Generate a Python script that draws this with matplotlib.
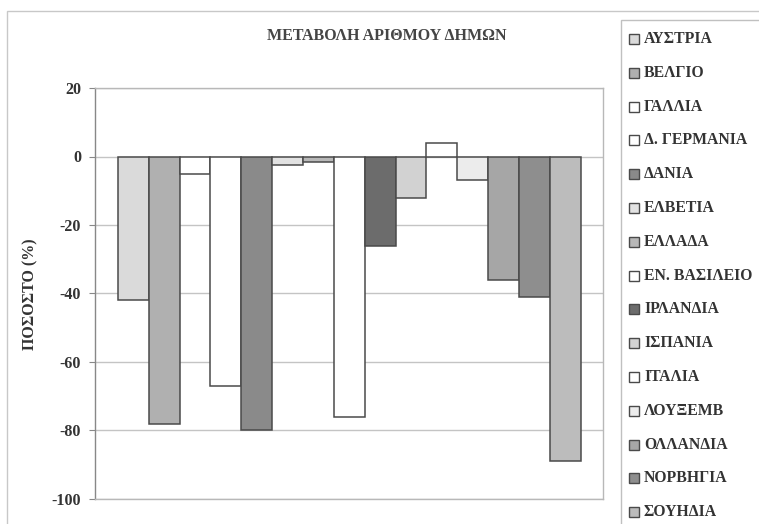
import matplotlib
matplotlib.use('Agg')
import matplotlib.pyplot as plt
from matplotlib.patches import Rectangle

# data
countries = ['ΑΥΣΤΡΙΑ', 'ΒΕΛΓΙΟ', 'ΓΑΛΛΙΑ', 'Δ. ΓΕΡΜΑΝΙΑ', 'ΔΑΝΙΑ', 'ΕΛΒΕΤΙΑ',
             'ΕΛΛΑΔΑ', 'ΕΝ. ΒΑΣΙΛΕΙΟ', 'ΙΡΛΑΝΔΙΑ', 'ΙΣΠΑΝΙΑ', 'ΙΤΑΛΙΑ',
             'ΛΟΥΞΕΜΒ', 'ΟΛΛΑΝΔΙΑ', 'ΝΟΡΒΗΓΙΑ', 'ΣΟΥΗΔΙΑ']
change = [-42, -78, -5, -67, -80, -2.5, -1.5, -76, -26, -12, 4, -7, -36, -41, -89]
colors = ['#dadada', '#b0b0b0', '#ffffff', '#ffffff', '#8a8a8a', '#e2e2e2',
          '#b8b8b8', '#ffffff', '#6c6c6c', '#d2d2d2', '#ffffff', '#ececec',
          '#a6a6a6', '#8e8e8e', '#bcbcbc']
yticks = [20, 0, -20, -40, -60, -80, -100]

plt.rcParams['font.family'] = ['Liberation Serif', 'DejaVu Serif']
plt.rcParams['axes.unicode_minus'] = False

W, H = 759, 524
fig = plt.figure(figsize=(W / 100, H / 100), dpi=100)

def fx(px):
    return px / W

def fy(py):
    return 1 - py / H

# outer chart border (runs off the right and bottom edge)
fig.patches.append(Rectangle((fx(7), fy(560)), fx(800), fy(11) - fy(560),
                             transform=fig.transFigure, fill=False,
                             edgecolor='#c8c8c8', lw=1))

# plot area
ax = fig.add_axes([fx(95), fy(499), fx(603) - fx(95), fy(88) - fy(499)])
x = list(range(len(countries)))
ax.bar(x, change, width=1.0, color=colors, edgecolor='#4a4a4a', linewidth=1.1, zorder=3)
ax.set_xlim(-0.5 - 0.74, len(countries) - 0.5 + 0.72)
ax.set_ylim(-100, 20)
ax.set_yticks(yticks)
ax.set_xticks([])
ax.yaxis.grid(True, color='#c4c4c4', lw=1, zorder=0)
for s in ax.spines.values():
    s.set_color('#b8b8b8')
    s.set_linewidth(1)
ax.spines['left'].set_color('#888888')
ax.tick_params(axis='y', direction='out', length=4, color='#888888',
               labelsize=11.5, labelcolor='#333333', pad=6)
for lab in ax.get_yticklabels():
    lab.set_fontweight('bold')

fig.text(fx(30), fy(294), 'ΠΟΣΟΣΤΟ (%)', rotation=90, ha='center', va='center',
         fontsize=11.5, fontweight='bold', color='#333333')
fig.text(fx(387), fy(36), 'ΜΕΤΑΒΟΛΗ ΑΡΙΘΜΟΥ ΔΗΜΩΝ', ha='center', va='center',
         fontsize=11.5, fontweight='bold', color='#454545')

# legend box drawn by hand
fig.patches.append(Rectangle((fx(621), fy(560)), fx(200), fy(20) - fy(560),
                             transform=fig.transFigure, fill=False,
                             edgecolor='#c0c0c0', lw=1))
for i, name in enumerate(countries):
    yc = 39 + i * 33.8
    fig.patches.append(Rectangle((fx(629), fy(yc + 5)), fx(10), fy(yc - 5) - fy(yc + 5),
                                 transform=fig.transFigure, facecolor=colors[i],
                                 edgecolor='#4a4a4a', lw=1))
    fig.text(fx(644), fy(yc), name, ha='left', va='center', fontsize=11.3,
             fontweight='bold', color='#333333')

fig.savefig('out.png', dpi=100)
